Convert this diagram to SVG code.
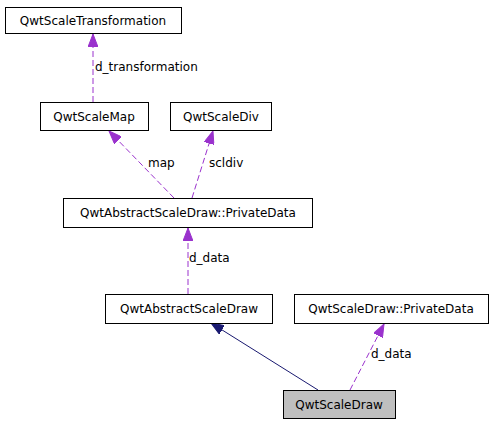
<svg xmlns="http://www.w3.org/2000/svg" width="495" height="424" viewBox="0 0 495 424">
<style>
.box{fill:#ffffff;stroke:#000000;stroke-width:1}
.cur{fill:#bfbfbf;stroke:#000000;stroke-width:1}
.t{font-family:"DejaVu Sans","Liberation Sans",sans-serif;font-size:12px;fill:#000000;text-anchor:middle}
.lbl{font-family:"DejaVu Sans","Liberation Sans",sans-serif;font-size:12px;fill:#000000}
.use{fill:none;stroke:#9a32cd;stroke-width:1;stroke-dasharray:6,3}
.inh{fill:none;stroke:#191970;stroke-width:1}
</style>
<defs>
<marker id="ap" viewBox="0 0 13 10" refX="13" refY="5" markerWidth="13" markerHeight="10" markerUnits="userSpaceOnUse" orient="auto">
<polygon points="0,0 13,5 0,10" fill="#9a32cd" stroke="#9a32cd"/>
</marker>
<marker id="an" viewBox="0 0 13 10" refX="13" refY="5" markerWidth="13" markerHeight="10" markerUnits="userSpaceOnUse" orient="auto">
<polygon points="0,0 13,5 0,10" fill="#191970" stroke="#191970"/>
</marker>
</defs>
<g id="edges">
<path class="use" d="M93,102 L93,34" marker-end="url(#ap)"/>
<path class="use" d="M174,198 L109,131" marker-end="url(#ap)"/>
<path class="use" d="M192,198 L213,131" marker-end="url(#ap)"/>
<path class="use" d="M188,294 L188,228" marker-end="url(#ap)"/>
<path class="inh" d="M318,390 L211,323" marker-end="url(#an)"/>
<path class="use" d="M350,390 L384,324" marker-end="url(#ap)"/>
<text class="lbl" x="95" y="71">d_transformation</text>
<text class="lbl" x="148" y="167">map</text>
<text class="lbl" x="209" y="167">scldiv</text>
<text class="lbl" x="189" y="262">d_data</text>
<text class="lbl" x="371" y="358">d_data</text>
</g>
<g id="QwtScaleTransformation">
<rect class="box" x="5.5" y="7.5" width="176" height="26"/>
<text class="t" x="93" y="25">QwtScaleTransformation</text>
</g>
<g id="QwtScaleMap">
<rect class="box" x="40.5" y="102.5" width="108" height="28"/>
<text class="t" x="94" y="121">QwtScaleMap</text>
</g>
<g id="QwtScaleDiv">
<rect class="box" x="170.5" y="102.5" width="101" height="28"/>
<text class="t" x="221" y="121">QwtScaleDiv</text>
</g>
<g id="QwtAbstractScaleDraw_PrivateData">
<rect class="box" x="63.5" y="198.5" width="249" height="29"/>
<text class="t" x="188" y="217">QwtAbstractScaleDraw::PrivateData</text>
</g>
<g id="QwtAbstractScaleDraw">
<rect class="box" x="105.5" y="294.5" width="167" height="29"/>
<text class="t" x="189" y="313">QwtAbstractScaleDraw</text>
</g>
<g id="QwtScaleDraw_PrivateData">
<rect class="box" x="294.5" y="294.5" width="194" height="29"/>
<text class="t" x="391" y="313">QwtScaleDraw::PrivateData</text>
</g>
<g id="QwtScaleDraw">
<rect class="cur" x="283.5" y="390.5" width="112" height="28"/>
<text class="t" x="339" y="409">QwtScaleDraw</text>
</g>
</svg>
